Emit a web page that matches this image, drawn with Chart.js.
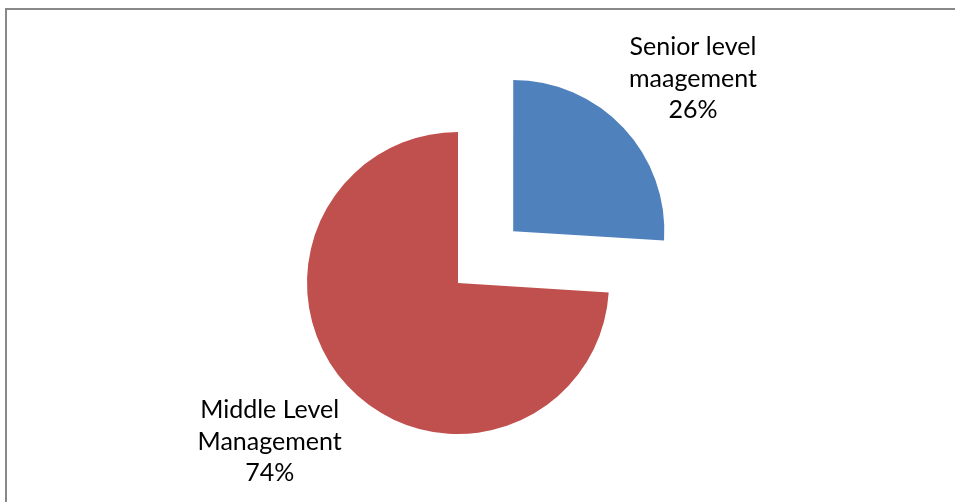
<!DOCTYPE html>
<html>
<head>
<meta charset="utf-8">
<script src="https://cdn.jsdelivr.net/npm/chart.js@4/dist/chart.umd.min.js"></script>
<style>
  html, body { margin: 0; padding: 0; background: #fff; overflow: hidden; }
  #wrap { position: relative; width: 955px; height: 502px; }
</style>
</head>
<body>
<div id="wrap"><canvas id="chartNiveis"></canvas></div>
<script>
// categorias e valores
const categorias = [['Senior level', 'maagement'], ['Middle Level', 'Management']];
const percentuais = [26, 74];
const cores = ['#4F81BD', '#C0504D'];

// moldura cinza do gráfico (só aparecem as bordas de cima e da esquerda)
const moldura = {
  id: 'moldura',
  beforeDraw(chart) {
    const { ctx } = chart;
    ctx.save();
    ctx.strokeStyle = '#888888';
    ctx.lineWidth = 2;
    ctx.strokeRect(6, 9, chart.width + 20, chart.height + 20);
    ctx.restore();
  },
};

// rótulos de categoria + porcentagem, fora da fatia, na direção do meio do arco
const rotulos = {
  id: 'rotulos',
  afterDatasetsDraw(chart, args, opts) {
    const { ctx } = chart;
    const meta = chart.getDatasetMeta(0);
    ctx.save();
    ctx.font = opts.font;
    ctx.fillStyle = '#000';
    ctx.textAlign = 'center';
    ctx.textBaseline = 'middle';
    meta.data.forEach((arc, i) => {
      const meio = (arc.startAngle + arc.endAngle) / 2;
      const desloc = (arc.options.offset || 0) / 4;
      const dist = arc.outerRadius * opts.distancia[i];
      const [ajX, ajY] = opts.ajuste[i];
      const cx = arc.x + Math.cos(meio) * (desloc + dist) + ajX;
      const cy = arc.y + Math.sin(meio) * (desloc + dist) + ajY;
      const linhas = [...categorias[i], percentuais[i] + '%'];
      const topo = cy - ((linhas.length - 1) * opts.entrelinha) / 2;
      linhas.forEach((linha, k) => ctx.fillText(linha, cx, topo + k * opts.entrelinha));
    });
    ctx.restore();
  },
};

new Chart(document.getElementById('chartNiveis'), {
  type: 'pie',
  data: {
    labels: categorias.map((c) => c.join(' ')),
    datasets: [{
      data: percentuais,
      backgroundColor: cores,
      borderWidth: 0,
      offset: [303, 0],
      hoverOffset: 0,
    }],
  },
  options: {
    responsive: true,
    maintainAspectRatio: false,
    animation: false,
    radius: 151,
    layout: { padding: { left: 0, right: 39, top: 64, bottom: 0 } },
    events: [],
    plugins: {
      legend: { display: false },
      tooltip: { enabled: false },
      rotulos: {
        font: '25px Lato',
        entrelinha: 31.5,
        distancia: [1.56, 1.62],
        ajuste: [[8, 9], [-10, -9]],
      },
    },
  },
  plugins: [moldura, rotulos],
});
</script>
</body>
</html>
